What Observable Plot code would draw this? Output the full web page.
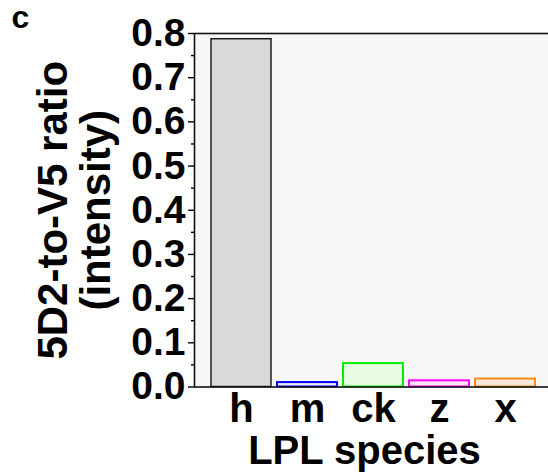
<!DOCTYPE html>
<html>
<head>
<meta charset="utf-8">
<script src="https://cdn.jsdelivr.net/npm/d3@7"></script>
<script src="https://cdn.jsdelivr.net/npm/@observablehq/plot@0.6"></script>
<style>
  html, body { margin: 0; padding: 0; background: white; }
  #chart { width: 548px; height: 472px; overflow: hidden; }
</style>
</head>
<body>
<div id="chart"></div>
<script>
const species = ["h", "m", "ck", "z", "x"];
const ratios = [0.787, 0.010, 0.053, 0.014, 0.018];
const barFills = ["#d9d9d9", "#ececfb", "#e6fbe2", "#fbe6f8", "#f9e9da"];
const barStrokes = ["#111111", "#0000ff", "#00ee00", "#ff00ff", "#ff8a1a"];
const yTicks = [0, 0.1, 0.2, 0.3, 0.4, 0.5, 0.6, 0.7, 0.8];
const yMinorTicks = [0.05, 0.15, 0.25, 0.35, 0.45, 0.55, 0.65, 0.75];
const yTitle = ["5D2-to-V5 ratio\n(intensity)"];
const xTitle = ["LPL species"];
const panelLabel = ["c"];

const data = species.map((s, i) => ({species: s, ratio: ratios[i], fill: barFills[i], stroke: barStrokes[i]}));
const font = "'Liberation Sans', Arial, Helvetica, sans-serif";

const chart = Plot.plot({
  width: 548,
  height: 472,
  marginLeft: 194,
  marginRight: 0,
  marginTop: 33,
  marginBottom: 85.5,
  style: {fontFamily: font, fontWeight: "bold", background: "white", color: "black", overflow: "visible"},
  x: {domain: species, paddingInner: 0.09, paddingOuter: 0.225, align: 0.56, label: null},
  y: {domain: [0, 0.8], label: null},
  marks: [
    Plot.frame({fill: "#f7f7f7", stroke: null, insetRight: -4}),
    Plot.barY(data, {x: "species", y: "ratio", fill: d => d.fill, stroke: d => d.stroke, strokeWidth: d => d.species === "h" ? 1.4 : 2}),
    Plot.frame({stroke: "#111", strokeWidth: 1.6, insetRight: -4}),
    Plot.axisY(yMinorTicks, {tickSize: 3, tickFormat: () => "", strokeWidth: 1.4, label: null}),
    Plot.axisY(yTicks, {tickSize: 6, tickPadding: 3, fontSize: 39, fontWeight: "bold", tickFormat: d3.format(".1f"), strokeWidth: 1.4, label: null}),
    Plot.axisX({tickSize: 0, tickPadding: 7, fontSize: 40, fontWeight: "bold", label: null}),
    Plot.text(yTitle, {frameAnchor: "left", textAnchor: "middle", rotate: -90, dx: -120, lineAnchor: "middle", lineHeight: 1.02, fontSize: 42, fontWeight: "bold", fill: "black"}),
    Plot.text(xTitle, {frameAnchor: "bottom", lineAnchor: "bottom", dy: 77, dx: -7, fontSize: 40, fontWeight: "bold", fill: "black"}),
    Plot.text(panelLabel, {frameAnchor: "top-left", textAnchor: "start", lineAnchor: "top", dx: -183, dy: -28, fontSize: 32, fontWeight: "bold", fill: "black"})
  ]
});
document.getElementById("chart").appendChild(chart);
</script>
</body>
</html>
